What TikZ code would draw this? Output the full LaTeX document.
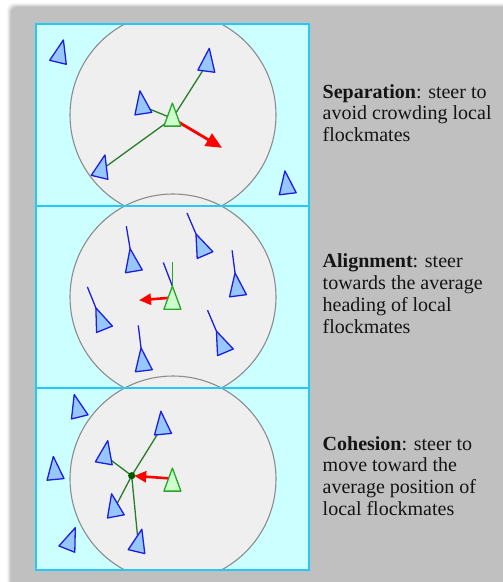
\documentclass[tikz,border=0pt]{standalone}
\usepackage{fontspec}
\setmainfont{Liberation Serif}
\usetikzlibrary{calc,arrows.meta}
\definecolor{bggray}{RGB}{192,192,192}
\definecolor{cyanfill}{RGB}{204,255,255}
\definecolor{cyanline}{RGB}{40,200,245}
\definecolor{zonefill}{RGB}{239,239,239}
\definecolor{zoneline}{RGB}{140,140,140}
\definecolor{bfill}{RGB}{150,200,255}
\definecolor{bline}{RGB}{30,30,225}
\definecolor{gfill}{RGB}{204,255,204}
\definecolor{gline}{RGB}{40,165,40}
\definecolor{conn}{RGB}{40,125,40}
\definecolor{dotgreen}{RGB}{0,90,0}
\newcommand\boidtri[3][blueboid]{%
  \draw[#1, shift={(#2)}] (#3:15.3) -- (#3+132.2:11.5) -- (#3-132.2:11.5) -- cycle;}
\newcommand\apexof[2]{\coordinate (#1a) at ($(#1)+(#2:15.3)$);}
\newcommand\rulelines[1]{\begin{tabular}[t]{@{}l@{}}#1\end{tabular}}
\begin{document}
\begin{tikzpicture}[x=1pt,y=-1pt,
  blueboid/.style={draw=bline,fill=bfill,line width=1.3pt,line join=round},
  greenboid/.style={draw=gline,fill=gfill,line width=1.3pt,line join=round},
  zone/.style={draw=zoneline,fill=zonefill,line width=1.1pt},
  panelborder/.style={draw=cyanline,line width=1.6pt},
  connector/.style={draw=conn,line width=1.3pt},
  headline/.style={draw=bline,line width=1.3pt},
  gheadline/.style={draw=gline,line width=1.5pt},
  steer/.style={draw=red,line width=2.8pt,-{Triangle[length=16pt,width=14pt]}},
  steersmall/.style={draw=red,line width=2.6pt,-{Triangle[length=12pt,width=11pt]}},
  txt/.style={anchor=base west,inner sep=0pt,text=black!92,
    font=\fontsize{20}{21.9}\selectfont}]
\useasboundingbox (0,0) rectangle (503,582);
\clip (0,0) rectangle (503,582);
\fill[white] (0,0) rectangle (503,582);
% shadow and grey sheet
\foreach \o/\op in {4/0.04,3/0.05,2/0.06,1/0.08}
  \fill[black,opacity=\op,rounded corners=7pt] (11-\o,7-\o) rectangle (530,610);
\fill[bggray,rounded corners=6pt] (11,7) rectangle (530,610);
% panels
\foreach \y in {24,206,388} \fill[cyanfill] (36,\y) rectangle (309,\y+182);
\begin{scope}
  \clip (36,24) rectangle (309,570);
  \foreach \cy in {115,297,479} \draw[zone] (173,\cy) circle (103pt);
\end{scope}
\foreach \y in {24,206,388} \draw[panelborder] (36,\y) rectangle (309,\y+182);

% ---------- Separation ----------
\coordinate (s1) at (59.8,54.8);
\coordinate (s2) at (207.3,63.5);
\coordinate (s3) at (142.2,106);
\coordinate (sg) at (172.4,118.4);
\coordinate (s4) at (101.4,169.8);
\coordinate (s5) at (286.8,186.1);
\coordinate (sr) at (222,147.8);
\draw[connector] (sg) -- (s2);
\draw[connector] (sg) -- (s3);
\draw[connector] (sg) -- (s4);
\draw[steer] (sg) -- (sr);
\boidtri{s1}{-76.5}
\boidtri{s2}{-82.6}
\boidtri{s3}{-98.5}
\boidtri{s4}{-76.4}
\boidtri{s5}{-97}
\boidtri[greenboid]{sg}{-90}

% ---------- Alignment ----------
\coordinate (a1) at (132.6,263.7);
\coordinate (a2) at (202,248);
\coordinate (a3) at (237,288.1);
\coordinate (a4) at (101.6,322.1);
\coordinate (a5) at (222.4,345.2);
\coordinate (a6) at (142.9,363.1);
\coordinate (ag) at (172.4,301.5);
\coordinate (agr) at (172.4,297.6);
\coordinate (ar) at (139,300.2);
\foreach \n/\ang in {a1/-99.5,a2/-113.2,a3/-97.4,a4/-112,a5/-113,a6/-97}{
  \apexof{\n}{\ang}
  \coordinate (\n h) at ($(\n)+(\ang:38)$);
  \draw[headline] (\n a) -- (\n h);
}
\apexof{ag}{-90}
\coordinate (agh) at (172.4,262.3);
\coordinate (agavg) at (163.3,262.5);
\draw[steersmall] (agr) -- (ar);
\draw[headline] (aga) -- (agavg);
\draw[gheadline] (aga) -- (agh);
\boidtri{a1}{-99.5}
\boidtri{a2}{-113.2}
\boidtri{a3}{-97.4}
\boidtri{a4}{-112}
\boidtri{a5}{-113}
\boidtri{a6}{-97}
\boidtri[greenboid]{ag}{-90}

% ---------- Cohesion ----------
\coordinate (c1) at (77.9,409.4);
\coordinate (c2) at (162.3,426.5);
\coordinate (c3) at (105.1,455.7);
\coordinate (c4) at (54.8,471.7);
\coordinate (c5) at (114.4,508.8);
\coordinate (c6) at (69.7,541.9);
\coordinate (c7) at (138.3,544.1);
\coordinate (cg) at (172.4,483.4);
\coordinate (cgr) at (172.4,478.6);
\coordinate (cm) at (131.7,475.7);
\draw[connector] (cm) -- (c2);
\draw[connector] (cm) -- (c3);
\draw[connector] (cm) -- (c5);
\draw[connector] (cm) -- (c7);
\draw[steersmall, shorten >=2.5pt] (cgr) -- (cm);
\fill[dotgreen] (cm) circle (3.6pt);
\boidtri{c1}{-103.9}
\boidtri{c2}{-95.2}
\boidtri{c3}{-80}
\boidtri{c4}{-95.6}
\boidtri{c5}{-100.7}
\boidtri{c6}{-68.5}
\boidtri{c7}{-76.6}
\boidtri[greenboid]{cg}{-90}

% ---------- Text ----------
\node[txt] (sep) at (322.5,98) {\rulelines{\textbf{Separation}: steer to\\avoid crowding local\\flockmates}};
\node[txt] (ali) at (322.5,267.7) {\rulelines{\textbf{Alignment}: steer\\towards the average\\heading of local\\flockmates}};
\node[txt] (coh) at (322.5,450) {\rulelines{\textbf{Cohesion}: steer to\\move toward the\\average position of\\local flockmates}};
\end{tikzpicture}
\end{document}
